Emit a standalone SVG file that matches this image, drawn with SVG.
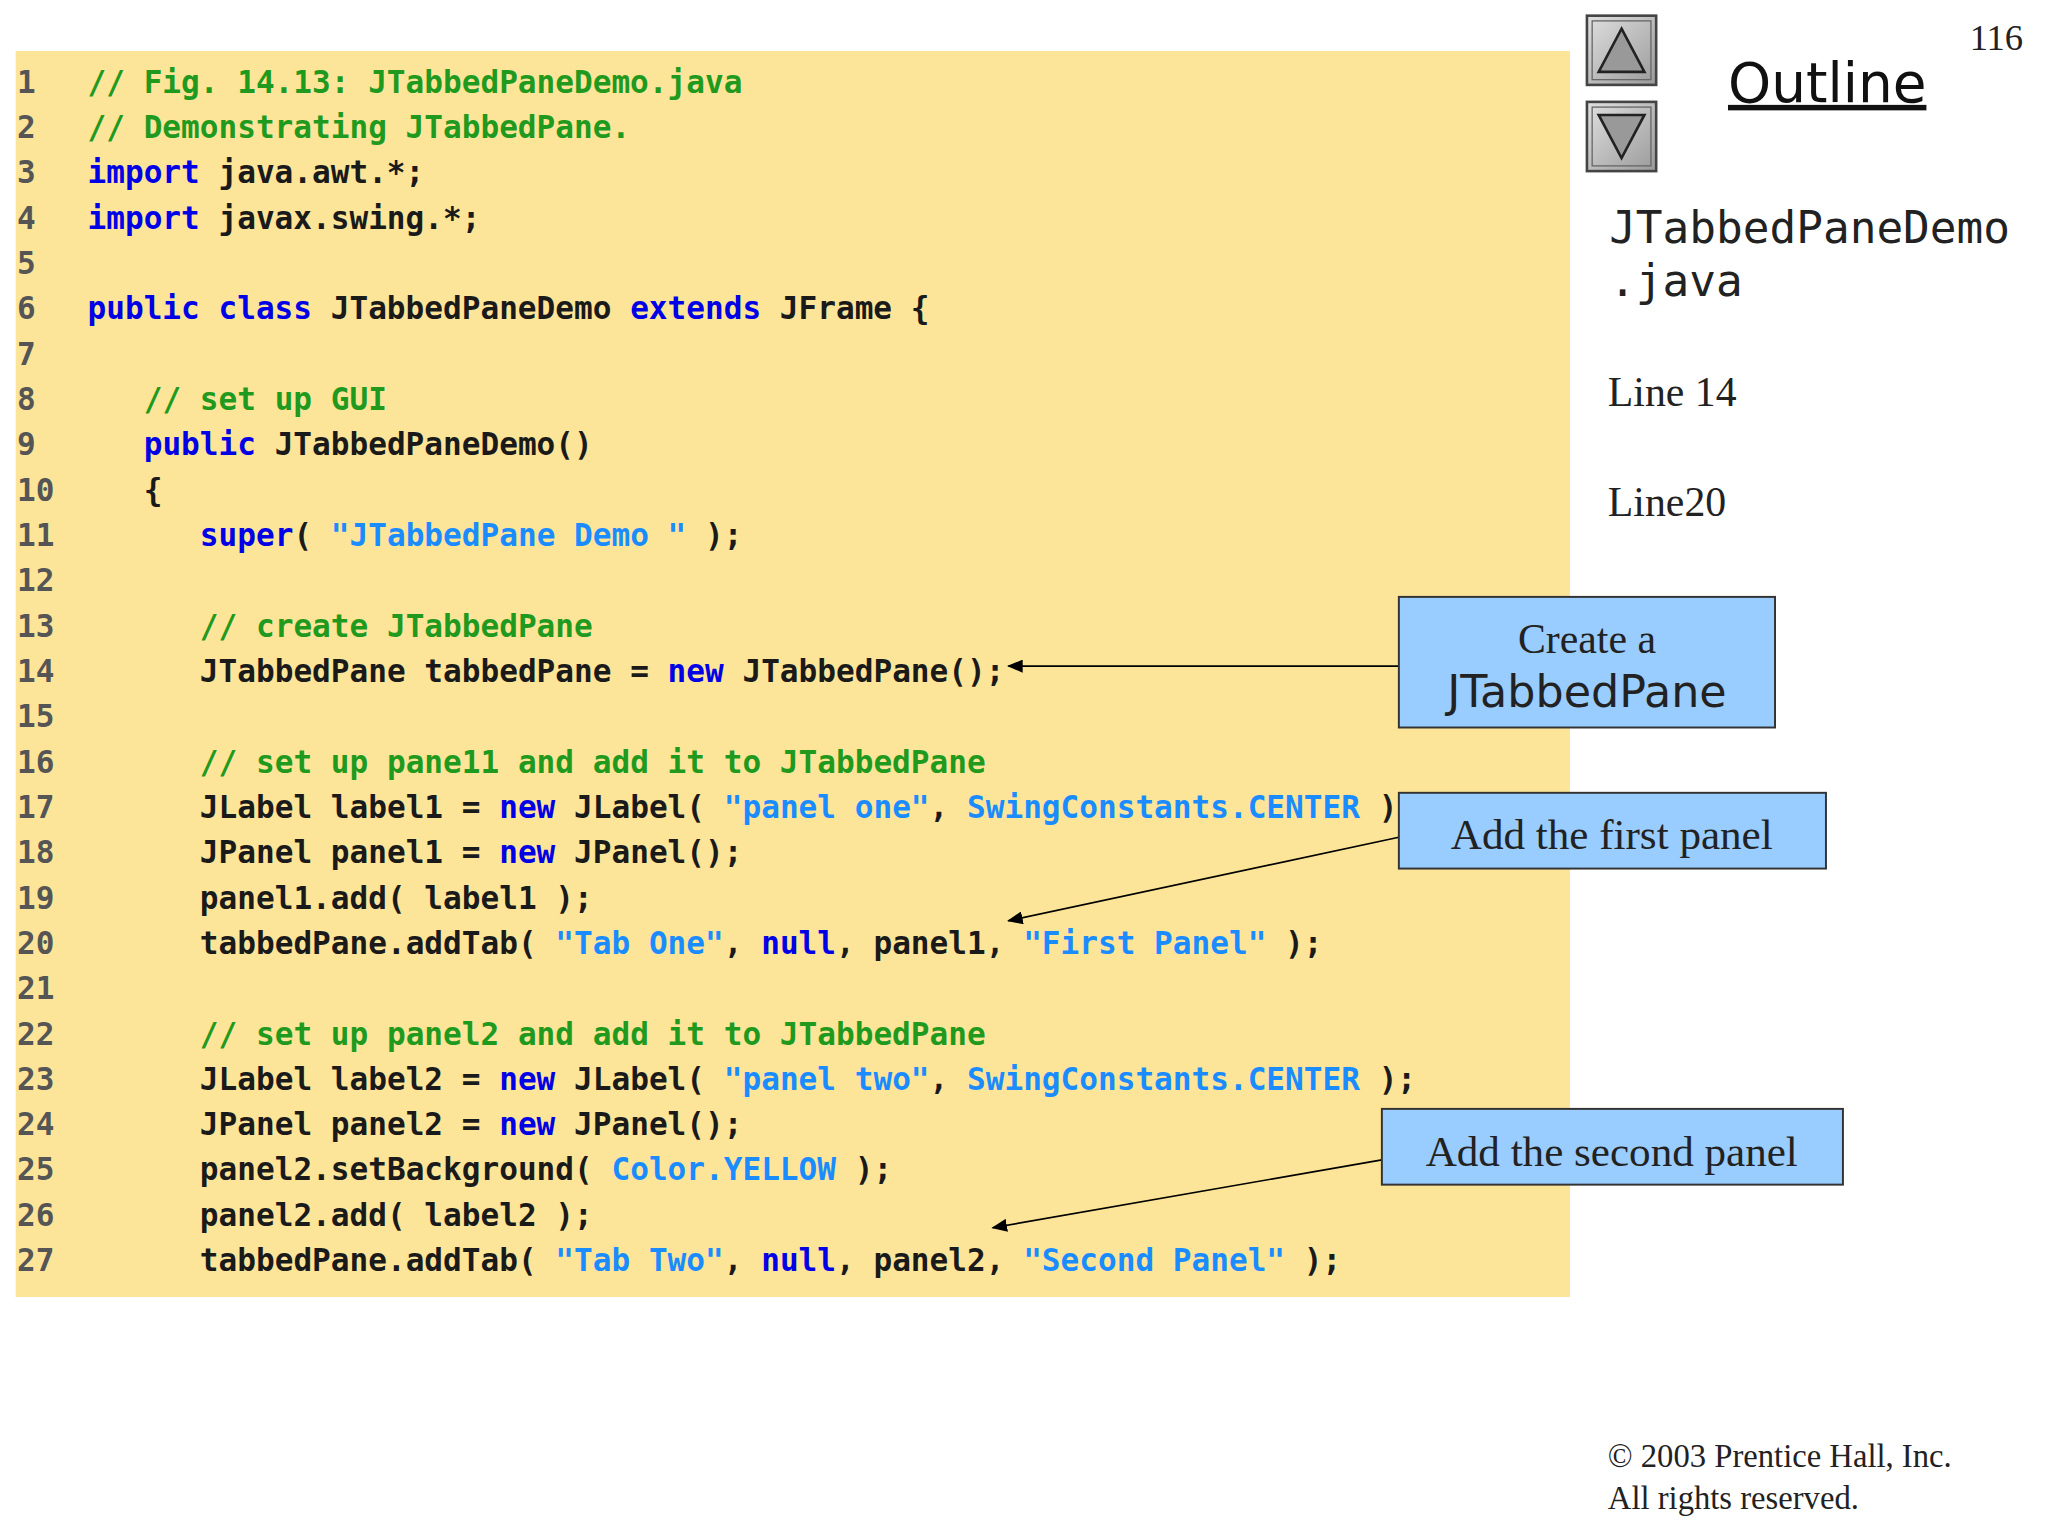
<svg xmlns="http://www.w3.org/2000/svg" width="2048" height="1536" viewBox="0 0 2048 1536">
<style>
.c{font-family:"DejaVu Sans Mono",monospace;font-weight:bold;font-size:23.8px;fill:#1a1a1a}
.n{fill:#555}
.g{fill:#1f9a1f}
.k{fill:#0000e6}
.s{fill:#1a8cff}
.sf{font-family:"Liberation Serif",serif;fill:#222}
.box{fill:#99ccff;stroke:#333;stroke-width:1.5}
.ln{stroke:#000;stroke-width:1.3;fill:none;marker-end:url(#ah)}
</style>
<defs>
<marker id="ah" markerWidth="12" markerHeight="10" refX="11" refY="5" orient="auto" markerUnits="userSpaceOnUse"><path d="M0,0 L12,5 L0,10 z" fill="#000"/></marker>
<linearGradient id="bt" x1="0" y1="0" x2="1" y2="1"><stop offset="0" stop-color="#e0e0e0"/><stop offset="1" stop-color="#9a9a9a"/></linearGradient>
</defs>
<rect width="2048" height="1536" fill="#fff"/>
<g transform="scale(1.30612)">
<rect x="12" y="39" width="1190" height="954" fill="#fce598"/>
<g id="code" class="c" xml:space="preserve">
<text x="13" y="71"><tspan class="n">1</tspan><tspan x="67" class="g">// Fig. 14.13: JTabbedPaneDemo.java</tspan></text>
<text x="13" y="105.7"><tspan class="n">2</tspan><tspan x="67" class="g">// Demonstrating JTabbedPane.</tspan></text>
<text x="13" y="140.4"><tspan class="n">3</tspan><tspan x="67" class="k">import</tspan> java.awt.*;</text>
<text x="13" y="175.1"><tspan class="n">4</tspan><tspan x="67" class="k">import</tspan> javax.swing.*;</text>
<text x="13" y="209.8"><tspan class="n">5</tspan></text>
<text x="13" y="244.5"><tspan class="n">6</tspan><tspan x="67" class="k">public class</tspan> JTabbedPaneDemo <tspan class="k">extends</tspan> JFrame  {</text>
<text x="13" y="279.2"><tspan class="n">7</tspan></text>
<text x="13" y="313.9"><tspan class="n">8</tspan><tspan x="110" class="g">// set up GUI</tspan></text>
<text x="13" y="348.6"><tspan class="n">9</tspan><tspan x="110" class="k">public</tspan> JTabbedPaneDemo()</text>
<text x="13" y="383.3"><tspan class="n">10</tspan><tspan x="110">{</tspan></text>
<text x="13" y="418"><tspan class="n">11</tspan><tspan x="153" class="k">super</tspan>( <tspan class="s">"JTabbedPane Demo "</tspan> );</text>
<text x="13" y="452.7"><tspan class="n">12</tspan></text>
<text x="13" y="487.4"><tspan class="n">13</tspan><tspan x="153" class="g">// create JTabbedPane</tspan></text>
<text x="13" y="522.1"><tspan class="n">14</tspan><tspan x="153">JTabbedPane tabbedPane = </tspan><tspan class="k">new</tspan> JTabbedPane();</text>
<text x="13" y="556.8"><tspan class="n">15</tspan></text>
<text x="13" y="591.5"><tspan class="n">16</tspan><tspan x="153" class="g">// set up pane11 and add it to JTabbedPane</tspan></text>
<text x="13" y="626.2"><tspan class="n">17</tspan><tspan x="153">JLabel label1 = </tspan><tspan class="k">new</tspan> JLabel( <tspan class="s">"panel one"</tspan>, <tspan class="s">SwingConstants.CENTER</tspan> );</text>
<text x="13" y="660.9"><tspan class="n">18</tspan><tspan x="153">JPanel panel1 = </tspan><tspan class="k">new</tspan> JPanel();</text>
<text x="13" y="695.6"><tspan class="n">19</tspan><tspan x="153">panel1.add( label1 );</tspan></text>
<text x="13" y="730.3"><tspan class="n">20</tspan><tspan x="153">tabbedPane.addTab( </tspan><tspan class="s">"Tab One"</tspan>, <tspan class="k">null</tspan>, panel1, <tspan class="s">"First Panel"</tspan> );</text>
<text x="13" y="765"><tspan class="n">21</tspan></text>
<text x="13" y="799.7"><tspan class="n">22</tspan><tspan x="153" class="g">// set up panel2 and add it to JTabbedPane</tspan></text>
<text x="13" y="834.4"><tspan class="n">23</tspan><tspan x="153">JLabel label2 = </tspan><tspan class="k">new</tspan> JLabel( <tspan class="s">"panel two"</tspan>, <tspan class="s">SwingConstants.CENTER</tspan> );</text>
<text x="13" y="869.1"><tspan class="n">24</tspan><tspan x="153">JPanel panel2 = </tspan><tspan class="k">new</tspan> JPanel();</text>
<text x="13" y="903.8"><tspan class="n">25</tspan><tspan x="153">panel2.setBackground( </tspan><tspan class="s">Color.YELLOW</tspan> );</text>
<text x="13" y="938.5"><tspan class="n">26</tspan><tspan x="153">panel2.add( label2 );</tspan></text>
<text x="13" y="973.2"><tspan class="n">27</tspan><tspan x="153">tabbedPane.addTab( </tspan><tspan class="s">"Tab Two"</tspan>, <tspan class="k">null</tspan>, panel2, <tspan class="s">"Second Panel"</tspan> );</text>
</g>
<g id="nav">
<rect x="1215" y="12" width="53" height="53" fill="url(#bt)" stroke="#444" stroke-width="2"/>
<rect x="1219" y="16" width="45" height="45" fill="none" stroke="#666" stroke-width="1"/>
<path d="M1241.5,22 L1259,55 L1224,55 z" fill="#999" stroke="#222" stroke-width="2"/>
<rect x="1215" y="78" width="53" height="53" fill="url(#bt)" stroke="#444" stroke-width="2"/>
<rect x="1219" y="82" width="45" height="45" fill="none" stroke="#666" stroke-width="1"/>
<path d="M1224,88 L1259,88 L1241.5,121 z" fill="#999" stroke="#222" stroke-width="2"/>
</g>
<text x="1508" y="38" class="sf" font-size="28">116</text>
<text x="1323" y="78" font-family="'DejaVu Sans',sans-serif" font-size="42" fill="#111" text-decoration="underline">Outline</text>
<text x="1232" y="186" font-family="'DejaVu Sans Mono',monospace" font-size="34" fill="#222">JTabbedPaneDemo</text>
<text x="1232" y="227" font-family="'DejaVu Sans Mono',monospace" font-size="34" fill="#222">.java</text>
<text x="1231" y="311" class="sf" font-size="32">Line 14</text>
<text x="1231" y="395" class="sf" font-size="32">Line20</text>
<text x="1231" y="479" class="sf" font-size="32">Line 27</text>
<g id="connectors">
<line class="ln" x1="1071" y1="510" x2="772" y2="510"/>
<line class="ln" x1="1071" y1="641" x2="772" y2="705"/>
<line class="ln" x1="1058" y1="888" x2="760" y2="940"/>
</g>
<g id="callout1">
<rect class="box" x="1071" y="457" width="288" height="100"/>
<text x="1215" y="500" class="sf" font-size="32" text-anchor="middle">Create a</text>
<text x="1215" y="541" font-family="'DejaVu Sans',sans-serif" font-size="34" fill="#222" text-anchor="middle">JTabbedPane</text>
</g>
<g id="callout2">
<rect class="box" x="1071" y="607" width="327" height="58"/>
<text x="1234" y="650" class="sf" font-size="33" text-anchor="middle">Add the first panel</text>
</g>
<g id="callout3">
<rect class="box" x="1058" y="849" width="353" height="58"/>
<text x="1234" y="893" class="sf" font-size="33" text-anchor="middle">Add the second panel</text>
</g>
<text x="1231" y="1123" class="sf" font-size="25">© 2003 Prentice Hall, Inc.</text>
<text x="1231" y="1155" class="sf" font-size="25">All rights reserved.</text>
</g>
</svg>
